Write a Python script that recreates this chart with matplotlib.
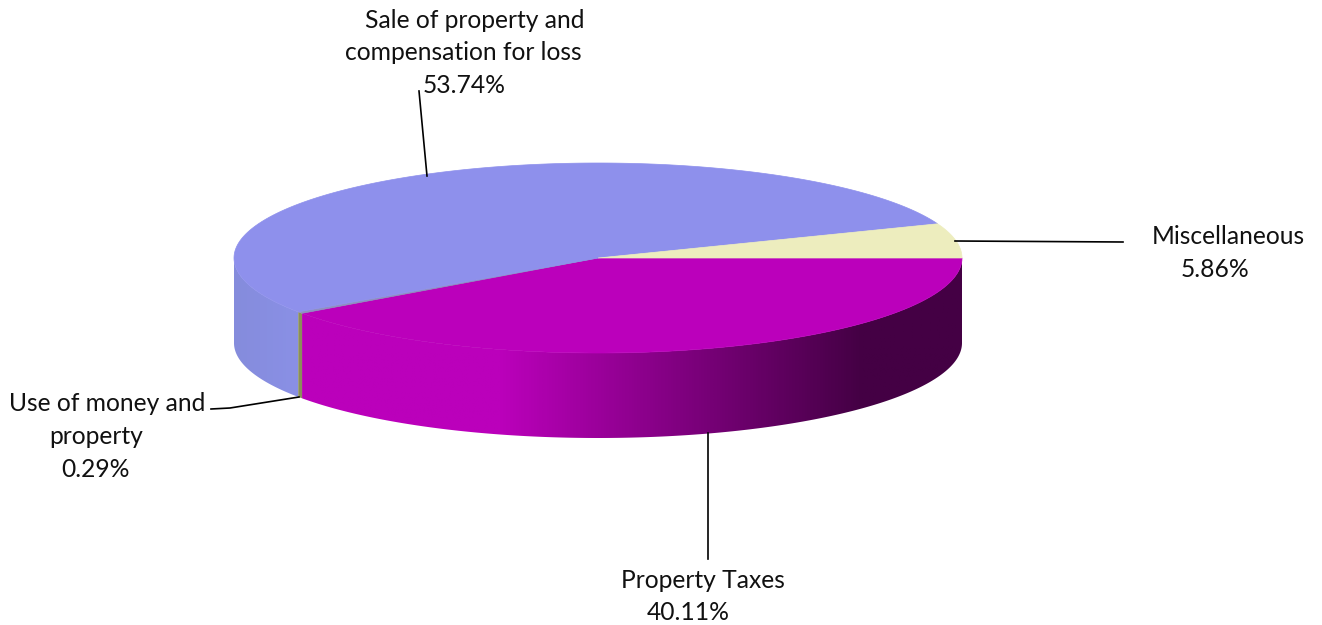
import numpy as np
import matplotlib
matplotlib.use('Agg')
import matplotlib.pyplot as plt
from matplotlib.colors import LinearSegmentedColormap
from matplotlib.patches import Polygon

# slices in drawing order, clockwise from 3 o'clock
labels = ['Property Taxes', 'Use of money and\nproperty', 'Sale of property and\ncompensation for loss', 'Miscellaneous']
values = [40.11, 0.29, 53.74, 5.86]
top_colors = ['#BB00BB', '#8E90C0', '#8E90EC', '#EDEDBE']

# pie geometry in picture pixels
cx, cy = 598, 258
rx, ry = 364, 95
depth = 85

plt.rcParams['font.family'] = ['Lato', 'DejaVu Sans']
fig = plt.figure(figsize=(13.22, 6.25), dpi=100)
ax = fig.add_axes([0, 0, 1, 1])
ax.set_xlim(0, 1322)
ax.set_ylim(625, 0)
ax.axis('off')

edges = np.concatenate([[0], np.cumsum(values)]) / sum(values) * 2 * np.pi


def rim(a0, a1, n=200):
    t = np.linspace(a0, a1, n)
    return cx + rx * np.cos(t), cy + ry * np.sin(t)


def side_poly(a0, a1):
    x, y = rim(a0, a1)
    return np.vstack([np.column_stack([x, y]), np.column_stack([x[::-1], y[::-1] + depth])])


# front wall, only the part from 0 to 180 degrees can be seen
magenta_side = LinearSegmentedColormap.from_list('mag', [(0, '#BB00BB'), (0.3, '#BB00BB'), (0.85, '#440044'), (1, '#440044')])
blue_side = LinearSegmentedColormap.from_list('blu', ['#858CDC', '#8A90E6'])
grad = np.linspace(0, 1, 512).reshape(1, -1)

xa, _ = rim(edges[1], edges[0])
im = ax.imshow(grad, cmap=magenta_side, extent=[xa.min(), xa.max(), cy + ry + depth, cy], aspect='auto', zorder=1)
im.set_clip_path(Polygon(side_poly(edges[0], edges[1]), transform=ax.transData))

xb, _ = rim(np.pi, edges[2])
im2 = ax.imshow(grad, cmap=blue_side, extent=[xb.min(), xb.max(), cy + ry + depth, cy], aspect='auto', zorder=1)
im2.set_clip_path(Polygon(side_poly(edges[2], np.pi), transform=ax.transData))

ax.add_patch(Polygon(side_poly(edges[1], edges[2]), closed=True, fc='#8A8F5A', ec='none', zorder=2))
ax.set_xlim(0, 1322)
ax.set_ylim(625, 0)

# top face
for i in range(len(values)):
    x, y = rim(edges[i], edges[i + 1])
    pts = np.vstack([[cx, cy], np.column_stack([x, y])])
    ax.add_patch(Polygon(pts, closed=True, fc=top_colors[i], ec=top_colors[i], lw=0.5, zorder=3))

# leader lines
ax.plot([708, 708], [433, 559], color='black', lw=1.2, zorder=4)
ax.plot([299, 230, 211], [397, 408, 409], color='black', lw=1.2, zorder=4)
ax.plot([427, 419], [176, 91], color='black', lw=1.2, zorder=4)
ax.plot([955, 1123], [241, 242], color='black', lw=1.2, zorder=4)

# labels
fs = 17.7
tc = '#111111'
ax.text(703, 588, labels[0], fontsize=fs, ha='center', va='baseline', color=tc)
ax.text(688, 620, '%.2f%%' % values[0], fontsize=fs, ha='center', va='baseline', color=tc)
ax.text(107, 411, 'Use of money and', fontsize=fs, ha='center', va='baseline', color=tc)
ax.text(96, 444, 'property', fontsize=fs, ha='center', va='baseline', color=tc)
ax.text(95, 477, '%.2f%%' % values[1], fontsize=fs, ha='center', va='baseline', color=tc)
ax.text(475, 28, 'Sale of property and', fontsize=fs, ha='center', va='baseline', color=tc)
ax.text(463, 60, 'compensation for loss', fontsize=fs, ha='center', va='baseline', color=tc)
ax.text(464, 93, '%.2f%%' % values[2], fontsize=fs, ha='center', va='baseline', color=tc)
ax.text(1228, 244, labels[3], fontsize=fs, ha='center', va='baseline', color=tc)
ax.text(1215, 277, '%.2f%%' % values[3], fontsize=fs, ha='center', va='baseline', color=tc)

fig.savefig('out.png', dpi=100)
